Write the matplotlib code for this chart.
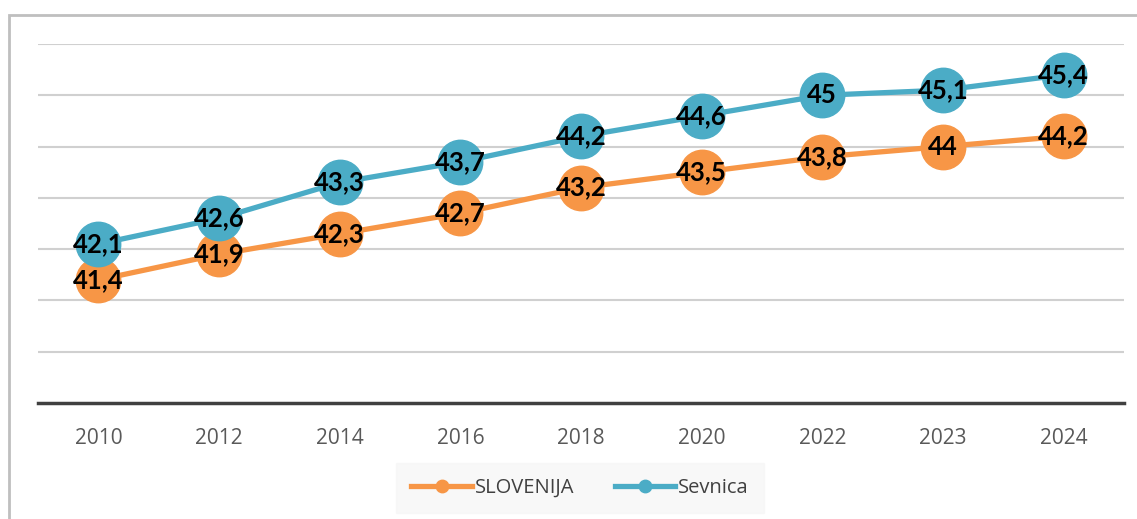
import matplotlib.pyplot as plt
from matplotlib.patches import Rectangle

years = ['2010', '2012', '2014', '2016', '2018', '2020', '2022', '2023', '2024']
slovenija = [41.4, 41.9, 42.3, 42.7, 43.2, 43.5, 43.8, 44.0, 44.2]
sevnica = [42.1, 42.6, 43.3, 43.7, 44.2, 44.6, 45.0, 45.1, 45.4]

orange = '#F79646'
blue = '#4BACC6'

def fmt(v):
    s = ('%.1f' % v).rstrip('0').rstrip('.')
    return s.replace('.', ',')

fig = plt.figure(figsize=(11.37, 5.19), dpi=100)
ax = fig.add_axes([38/1137, 116/519, (1124-38)/1137, (403-44)/519])

x = range(len(years))
ax.plot(x, slovenija, color=orange, lw=3.8, marker='o', ms=32, label='SLOVENIJA', zorder=3)
ax.plot(x, sevnica, color=blue, lw=3.8, marker='o', ms=32, label='Sevnica', zorder=4)

for i in x:
    ax.text(i, slovenija[i], fmt(slovenija[i]), ha='center', va='center', fontsize=18.5,
            fontweight='bold', family='Lato', color='black', zorder=5)
    ax.text(i, sevnica[i], fmt(sevnica[i]), ha='center', va='center', fontsize=18.5,
            fontweight='bold', family='Lato', color='black', zorder=6)

ax.set_xlim(-0.5, 8.5)
ax.set_ylim(39, 46)
ax.set_yticks(range(40, 47))
ax.yaxis.grid(True, color='#d0d0d0', lw=1.5)
ax.set_axisbelow(True)
ax.tick_params(axis='y', left=False, labelleft=False)
ax.tick_params(axis='x', length=0, pad=18, labelsize=15, labelcolor='#595959')
ax.set_xticks(list(x))
ax.set_xticklabels(years, family='Open Sans')
for s in ['top', 'left', 'right']:
    ax.spines[s].set_visible(False)
ax.spines['bottom'].set_color('#404040')
ax.spines['bottom'].set_linewidth(2.5)

leg = fig.legend(loc='center', bbox_to_anchor=(580/1137, 31/519), ncol=2, frameon=True,
                 fancybox=False, facecolor='#f7f7f7', edgecolor='#f7f7f7', markerscale=0.28,
                 prop={'family': 'Open Sans', 'size': 14.5}, handlelength=3.0, columnspacing=2.0,
                 borderpad=0.75, borderaxespad=0, handletextpad=0.15)
leg.get_frame().set_boxstyle('square', pad=0)
for t in leg.get_texts():
    t.set_color('#404040')

fig.patches.append(Rectangle((9/1137, -0.1), 1.2, (519-15)/519 + 0.1, transform=fig.transFigure,
                             fill=False, edgecolor='#bfbfbf', lw=2))

fig.savefig('out.png', dpi=100)
